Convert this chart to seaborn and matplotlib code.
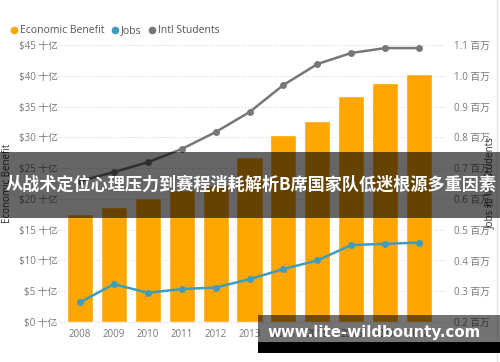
import matplotlib
matplotlib.use("Agg")
import matplotlib.pyplot as plt
import seaborn as sns
import numpy as np
import pandas as pd
from matplotlib.lines import Line2D
from matplotlib.patches import Rectangle

# dados
years = ["2008", "2009", "2010", "2011", "2012", "2013", "2014", "2015", "2016", "2017", "2018"]
economic_benefit = [17.5, 18.7, 20.2, 21.4, 22.3, 26.8, 30.4, 32.7, 36.7, 38.8, 40.3]  # $ 十亿
jobs = [0.264, 0.323, 0.295, 0.307, 0.312, 0.339, 0.372, 0.400, 0.450, 0.454, 0.458]  # 百万
intl_students = [0.658, 0.687, 0.719, 0.762, 0.817, 0.882, 0.970, 1.038, 1.074, 1.090, 1.090]  # 百万

left_ticks = [0, 5, 10, 15, 20, 25, 30, 35, 40, 45]
right_ticks = [0.2, 0.3, 0.4, 0.5, 0.6, 0.7, 0.8, 0.9, 1.0, 1.1]

banner_text = "从战术定位心理压力到赛程消耗解析B席国家队低迷根源多重因素"
watermark = "www.lite-wildbounty.com"

ORANGE = "#FFA600"
BLUE = "#3E9CBD"
GREY = "#777777"
TXT = "#777777"

sns.set_theme(style="white")
plt.rcParams["font.family"] = ["Open Sans", "Noto Sans CJK SC", "DejaVu Sans"]

df = pd.DataFrame({"year": years, "benefit": economic_benefit,
                   "jobs": jobs, "students": intl_students,
                   "pos": np.arange(len(years))})

fig = plt.figure(figsize=(5, 3.62), dpi=100)
ax = fig.add_axes([0.126, 0.1105, 0.746, 0.7652])

sns.barplot(data=df, x="year", y="benefit", color=ORANGE, saturation=1,
            width=0.77, ax=ax, zorder=2)
ax.set_xlim(-0.5, len(years) - 0.5)
ax.set_ylim(0, 45)
ax.set_yticks(left_ticks)
ax.set_yticklabels([f"${t} 十亿" for t in left_ticks])
ax.set_xlabel("")
ax.set_ylabel("")
ax.tick_params(axis="both", length=0, labelsize=7, labelcolor=TXT, pad=4)
ax.tick_params(axis="x", pad=5)
for s in ax.spines.values():
    s.set_visible(False)

# linhas de grade pontilhadas
for t in left_ticks:
    ax.axhline(t, xmin=-0.03, xmax=1.025, color="#cccccc", lw=0.7,
               ls=(0, (1, 2)), clip_on=False, zorder=0)

ax2 = ax.twinx()
sns.lineplot(data=df, x="pos", y="students", color=GREY, marker="o",
             markersize=5, markeredgewidth=0, lw=1.8, ax=ax2)
sns.lineplot(data=df, x="pos", y="jobs", color=BLUE, marker="o",
             markersize=5, markeredgewidth=0, lw=1.8, ax=ax2)
ax2.set_ylim(0.2, 1.1)
ax2.set_yticks(right_ticks)
ax2.set_yticklabels([f"{t:.1f} 百万" for t in right_ticks])
ax2.set_xlabel("")
ax2.set_ylabel("")
ax2.tick_params(axis="y", length=0, labelsize=7, labelcolor=TXT, pad=13)
for s in ax2.spines.values():
    s.set_visible(False)
ax2.set_xlim(-0.5, len(years) - 0.5)

fig.text(0.016, 0.493, "Economic Benefit", rotation=90, ha="center", va="center",
         fontsize=7, color="#333333")
fig.text(0.98, 0.493, "Jobs 和 Intl Students", rotation=90, ha="center", va="center",
         fontsize=7, color="#333333")

# legenda
handles = [Line2D([], [], marker="o", ls="", color=c, markersize=4.5)
           for c in [ORANGE, BLUE, GREY]]
fig.legend(handles, ["Economic Benefit", "Jobs", "Intl Students"],
           loc="center left", bbox_to_anchor=(-0.004, 0.915), ncol=3,
           frameon=False, fontsize=7.5, handletextpad=0.0, columnspacing=0.4,
           labelcolor="#555555", handlelength=1.2)

# borda direita
fig.add_artist(Line2D([0.994, 0.994], [0, 1], color="#e6e6e6", lw=1,
                      transform=fig.transFigure))

# faixa escura com título
fig.add_artist(Rectangle((0, 1 - 218 / 362), 1, 66 / 362, transform=fig.transFigure,
                         color="black", alpha=0.6, lw=0, zorder=5))
fig.text(0.502, 1 - 185 / 362, banner_text, ha="center", va="center", color="white",
         fontsize=12.3, fontweight="bold", zorder=6,
         family=["Noto Sans CJK SC", "DejaVu Sans"])

# marca d'água
fig.add_artist(Rectangle((0.516, 1 - 342 / 362), 0.484, 27 / 362, transform=fig.transFigure,
                         color="black", alpha=0.55, lw=0, zorder=5))
fig.add_artist(Rectangle((0.516, 1 - 353 / 362), 0.484, 11 / 362, transform=fig.transFigure,
                         color="black", lw=0, zorder=5))
fig.text(0.748, 1 - 333 / 362, watermark, ha="center", va="center", color="white",
         fontsize=10.8, fontweight="bold", zorder=6, family=["DejaVu Sans"])

fig.savefig("out.png", dpi=100)
plt.close(fig)
